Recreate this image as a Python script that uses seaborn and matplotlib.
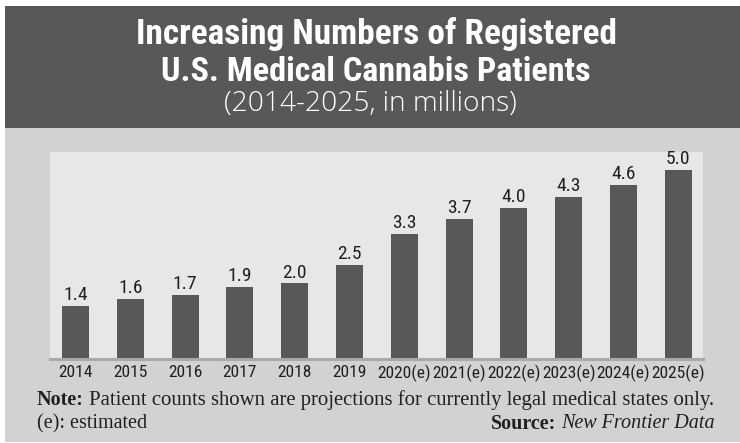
import matplotlib
matplotlib.use("Agg")
import matplotlib.pyplot as plt
from matplotlib.patches import Rectangle
from matplotlib import font_manager
import seaborn as sns
import pandas as pd

# Registered medical cannabis patients, millions
years = ["2014", "2015", "2016", "2017", "2018", "2019",
         "2020(e)", "2021(e)", "2022(e)", "2023(e)", "2024(e)", "2025(e)"]
patients = [1.4, 1.6, 1.7, 1.9, 2.0, 2.5, 3.3, 3.7, 4.0, 4.3, 4.6, 5.0]
value_labels = ["1.4", "1.6", "1.7", "1.9", "2.0", "2.5",
                "3.3", "3.7", "4.0", "4.3", "4.6", "5.0"]

title_line1 = "Increasing Numbers of Registered"
title_line2 = "U.S. Medical Cannabis Patients"
subtitle = "(2014-2025, in millions)"
note_head = "Note:"
note_body = "Patient counts shown are projections for currently legal medical states only."
estimate_note = "(e): estimated"
source_head = "Source:"
source_body = "New Frontier Data"

df = pd.DataFrame({"year": years, "patients": patients})


def pick_condensed():
    names = sorted({f.name for f in font_manager.fontManager.ttflist})
    for want in ["Liberation Sans Narrow", "Roboto Condensed", "DejaVu Sans Condensed",
                 "Open Sans Condensed", "Noto Sans Condensed", "Arial Narrow"]:
        if want in names:
            return [want, "DejaVu Sans"], "normal"
    for n in names:
        if "Narrow" in n or "Condensed" in n:
            return [n, "DejaVu Sans"], "normal"
    return ["DejaVu Sans"], "condensed"


narrow, narrow_stretch = pick_condensed()
serif = ["Liberation Serif", "DejaVu Serif"]

W, H = 740, 443
fig = plt.figure(figsize=(W / 100, H / 100), dpi=100)
fig.patch.set_facecolor("white")
renderer = fig.canvas.get_renderer()

DARK = "#58585a"
PANEL = "#d1d2d4"
PLOT_BG = "#e6e7e8"
BAR = "#58585a"
INK = "#231f20"

# Header band and body panel
fig.patches.append(Rectangle((5 / W, (H - 128) / H), 1, 122 / H,
                             transform=fig.transFigure, facecolor=DARK,
                             edgecolor="none", zorder=0))
fig.patches.append(Rectangle((5 / W, 1 / H), 1, (H - 128 - 1) / H,
                             transform=fig.transFigure, facecolor=PANEL,
                             edgecolor="none", zorder=0))


def px_width(t):
    return t.get_window_extent(renderer).width


def fitted_text(x, y, s, width, **kw):
    t = fig.text(x / W, 1 - y / H, s, **kw)
    size = t.get_fontsize()
    t.set_fontsize(size * width / px_width(t))
    return t


fitted_text(376, 34, title_line1, 482, ha="center", va="center", color="white",
            fontsize=22, fontweight="bold", family=narrow, fontstretch=narrow_stretch)
fitted_text(376, 72, title_line2, 430, ha="center", va="center", color="white",
            fontsize=22, fontweight="bold", family=narrow, fontstretch=narrow_stretch)
fitted_text(370, 104, subtitle, 294, ha="center", va="center", color="white",
            fontsize=18, family=["Open Sans", "DejaVu Sans"], fontweight="light")

# Plot area
ax = fig.add_axes([50 / W, (H - 359) / H, 653 / W, 207 / H], zorder=2)
ax.set_facecolor(PLOT_BG)
sns.barplot(data=df, x="year", y="patients", color=BAR, width=0.49,
            saturation=1, ax=ax, zorder=2)
for p, lab in zip(ax.patches, value_labels):
    ax.text(p.get_x() + p.get_width() / 2, p.get_height() + 0.05, lab,
            ha="center", va="bottom", fontsize=14, color=INK,
            family=narrow, fontstretch=narrow_stretch)

ax.set_xlim(-0.465, 11.45)
ax.set_ylim(0, 5.48)
ax.set_yticks([])
ax.set_xlabel("")
ax.set_ylabel("")
for s in ax.spines.values():
    s.set_visible(False)
ax.axhline(0, color="#a7a9ac", lw=2.2, zorder=3, clip_on=False)
ax.tick_params(axis="x", length=0, pad=4, labelsize=12.6, labelcolor=INK)
for t in ax.get_xticklabels():
    t.set_family(narrow)
    t.set_stretch(narrow_stretch)

# Footnotes
fs_note = 14.5
t_head = fig.text(37 / W, 1 - 400 / H, note_head, ha="left", va="center",
                  fontsize=fs_note, fontweight="bold", family=serif, color=INK)
head_w = px_width(t_head)
t_body = fig.text((37 + head_w + 5) / W, 1 - 400 / H, note_body, ha="left", va="center",
                  fontsize=fs_note, family=serif, color=INK)
target = 715 - (37 + head_w + 5)
t_body.set_fontsize(fs_note * target / px_width(t_body))

fig.text(37 / W, 1 - 424 / H, estimate_note, ha="left", va="center",
         fontsize=fs_note, family=serif, color=INK)
t_src = fig.text(715 / W, 1 - 424 / H, source_body, ha="right", va="center",
                 fontsize=fs_note, style="italic", family=serif, color=INK)
src_w = px_width(t_src)
fig.text((715 - src_w - 5) / W, 1 - 424 / H, source_head, ha="right", va="center",
         fontsize=fs_note, fontweight="bold", family=serif, color=INK)

fig.savefig("out.png", dpi=100, facecolor=fig.get_facecolor())
